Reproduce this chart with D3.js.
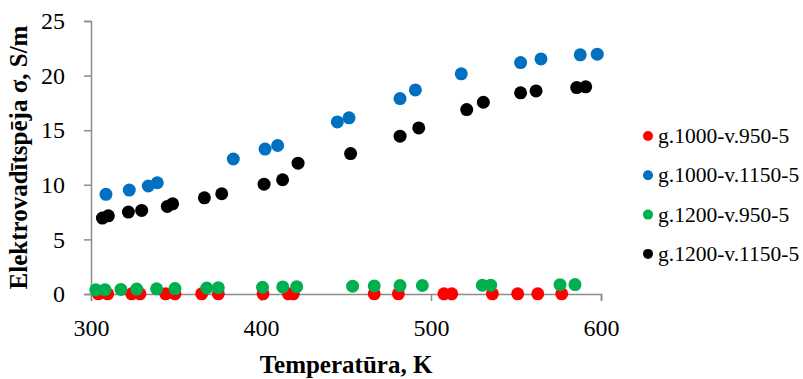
<!DOCTYPE html>
<html>
<head>
<meta charset="utf-8">
<script src="https://cdn.jsdelivr.net/npm/d3@7"></script>
<style>
    body { margin: 0; background: #ffffff; }
    svg { display: block; }
</style>
</head>
<body>
<div id="conductivity_chart"></div>
<script>
// Series names, in legend order.
var seriesNames = ['g.1000-v.950-5', 'g.1000-v.1150-5', 'g.1200-v.950-5', 'g.1200-v.1150-5'];
var seriesColors = ['#ff0000', '#0070c0', '#00b050', '#000000'];

// Temperature (K) and conductivity (S/m) for each series.
var tempRed = [304.3, 309.8, 323.9, 328.8, 343.9, 349.4, 365.1, 374.9, 401.2, 416.1, 419.0, 466.6, 480.8, 507.6, 512.2, 536.1, 551.0, 562.8, 576.9];
var sigmaRed = [0.02, 0.02, 0.02, 0.02, 0.02, 0.02, 0.02, 0.02, 0.02, 0.02, 0.02, 0.02, 0.02, 0.02, 0.02, 0.02, 0.02, 0.02, 0.02];

var tempBlue = [308.8, 322.5, 333.7, 339.0, 383.7, 402.4, 409.8, 444.9, 451.8, 481.8, 490.8, 517.8, 552.7, 564.7, 587.8, 597.8];
var sigmaBlue = [9.13, 9.52, 9.89, 10.19, 12.36, 13.27, 13.6, 15.76, 16.13, 17.9, 18.69, 20.16, 21.19, 21.53, 21.9, 21.96];

var tempGreen = [302.8, 308.2, 317.6, 326.9, 338.6, 349.4, 368.1, 374.9, 400.9, 412.8, 421.0, 453.9, 466.6, 481.8, 494.9, 530.2, 535.1, 575.9, 584.7];
var sigmaGreen = [0.38, 0.40, 0.42, 0.45, 0.47, 0.50, 0.55, 0.57, 0.62, 0.65, 0.67, 0.72, 0.74, 0.77, 0.78, 0.80, 0.81, 0.85, 0.86];

var tempBlack = [306.7, 310.2, 322.0, 329.8, 344.9, 348.0, 366.7, 376.9, 401.8, 412.7, 421.8, 452.7, 481.8, 492.8, 521.0, 530.8, 552.7, 561.8, 585.7, 591.0];
var sigmaBlack = [6.95, 7.16, 7.5, 7.65, 8.02, 8.26, 8.81, 9.18, 10.06, 10.46, 11.98, 12.86, 14.45, 15.21, 16.89, 17.56, 18.42, 18.6, 18.9, 18.97];

// Axis ticks.
var xTicks = [300, 400, 500, 600];
var yTicks = [0, 5, 10, 15, 20, 25];

// Set the margins of the visualization.
var margin = {left: 91, right: 202, top: 21, bottom: 85};

// Set the width and height of the visualization.
var width = 803 - margin.left - margin.right,
    height = 379 - margin.top - margin.bottom;

var svg = d3.select('#conductivity_chart')
    .append('svg')
        .attr('width', 803)
        .attr('height', 379);

var chart = svg.append('g')
    .attr('transform', 'translate(' + margin.left + ', ' + margin.top + ')');

// Build one table from the arrays.
var allSeries = [
    {name: seriesNames[0], color: seriesColors[0], t: tempRed, s: sigmaRed},
    {name: seriesNames[1], color: seriesColors[1], t: tempBlue, s: sigmaBlue},
    {name: seriesNames[2], color: seriesColors[2], t: tempGreen, s: sigmaGreen},
    {name: seriesNames[3], color: seriesColors[3], t: tempBlack, s: sigmaBlack}
];

// Scales.
var x = d3.scaleLinear()
    .domain([300, 600])
    .range([0, width]);

var y = d3.scaleLinear()
    .domain([0, 25])
    .range([height, 0]);

var axisColor = '#8c8c8c';

// Taking care of the x-axis.
var xAxisCall = d3.axisBottom(x)
    .tickValues(xTicks)
    .tickSizeOuter(0)
    .tickSize(7)
    .tickPadding(18);

var xg = chart.append('g')
    .attr('class', 'x-axis')
    .attr('transform', 'translate(0, ' + height + ')')
    .call(xAxisCall);

// Taking care of the y-axis.
var yAxisCall = d3.axisLeft(y)
    .tickValues(yTicks)
    .tickSizeOuter(0)
    .tickSize(7)
    .tickPadding(19);

var yg = chart.append('g')
    .attr('class', 'y-axis')
    .call(yAxisCall);

[xg, yg].forEach(function(g){
    g.select('.domain')
        .attr('stroke', axisColor)
        .attr('stroke-width', 1.5);
    g.selectAll('.tick line')
        .attr('stroke', axisColor)
        .attr('stroke-width', 1.5);
    g.selectAll('.tick text')
        .attr('fill', '#000000')
        .style('font', '24px "Liberation Serif", "Times New Roman", serif');
});

// Taking care of the x-axis text.
svg.append('text')
    .attr('x', margin.left + width / 2)
    .attr('y', 373)
    .attr('text-anchor', 'middle')
    .text('Temperatūra, K')
    .style('font', 'bold 25px "Liberation Serif", "Times New Roman", serif');

// Taking care of the y-axis text.
svg.append('text')
    .attr('x', -(margin.top + height / 2))
    .attr('y', 27)
    .attr('text-anchor', 'middle')
    .attr('transform', 'rotate(-90)')
    .text('Elektrovadītspēja σ, S/m')
    .style('font', 'bold 25px "Liberation Serif", "Times New Roman", serif');

// Draw the points, series by series.
allSeries.forEach(function(ser){
    chart.append('g')
        .selectAll('circle')
        .data(ser.t)
        .enter().append('circle')
            .attr('cx', function(d){ return x(d); })
            .attr('cy', function(d, i){ return y(ser.s[i]); })
            .attr('r', 6.5)
            .attr('fill', ser.color);
});

// Legend.
var legend = svg.append('g')
    .attr('transform', 'translate(648, 136)');

var items = legend.selectAll('g')
    .data(allSeries)
    .enter().append('g')
        .attr('transform', function(d, i){ return 'translate(0, ' + (i * 39.3) + ')'; });

items.append('circle')
    .attr('r', 5)
    .attr('fill', function(d){ return d.color; });

items.append('text')
    .attr('x', 10)
    .attr('y', 7)
    .text(function(d){ return d.name; })
    .style('font', '21.5px "Liberation Serif", "Times New Roman", serif');
</script>
</body>
</html>
